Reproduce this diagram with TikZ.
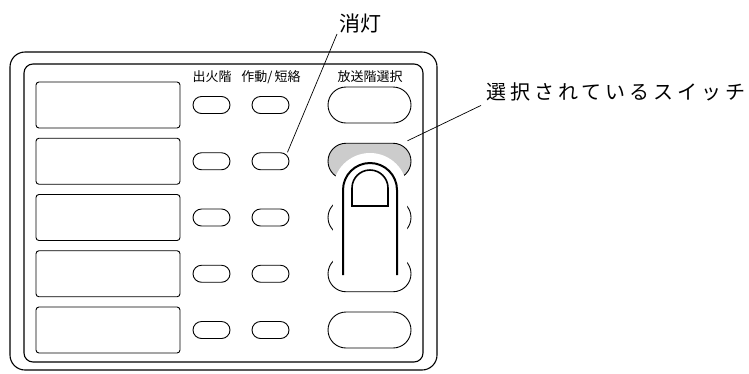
\documentclass[tikz,border=0pt]{standalone}
\usepackage{fontspec}
\setmainfont{Noto Sans CJK JP}
\usetikzlibrary{positioning}

\begin{document}
\begin{tikzpicture}[x=1pt, y=-1pt,
    frame/.style={draw, line width=1.1pt},
    display/.style={draw, line width=0.9pt, minimum width=144pt, minimum height=46pt,
                    rounded corners=3pt, inner sep=0pt},
    lamp/.style={draw, line width=0.9pt, minimum width=37pt, minimum height=17pt,
                 rounded corners=8.5pt, inner sep=0pt},
    switch/.style={draw, line width=0.9pt, minimum width=83pt, minimum height=36pt,
                   rounded corners=18pt, inner sep=0pt},
    head/.style={font=\fontsize{13}{15}\selectfont, inner sep=0pt},
    callout/.style={font=\fontsize{21}{23}\selectfont, inner sep=0pt},
    leader/.style={line width=0.7pt},
]
\useasboundingbox (0,0) rectangle (749,373);

% panel outline
\draw[frame, rounded corners=15pt] (10,52) rectangle (437,370);
\draw[frame, rounded corners=9pt] (24,64) rectangle (423,362);

% column heads
\node[head] (h-fire) at (212,77) {出火階};
\node[head] (h-act)  at (271,77) {作動/\,短絡};
\node[head] (h-sel)  at (370,77) {放送階選択};

% === rows ===
\foreach \r in {1,...,5} {
  \pgfmathsetmacro{\ry}{105+(\r-1)*56.25}
  \node[display] (disp-\r)  at (108,\ry)   {};
  \node[lamp]    (lamp-\r-1) at (211.5,\ry) {};
  \node[lamp]    (lamp-\r-2) at (270.5,\ry) {};
  \ifnum\r=2
    \node[switch, fill=gray!40] (sw-\r) at (369.5,\ry) {};
  \else
    \node[switch] (sw-\r) at (369.5,\ry) {};
  \fi
}

% finger pressing the selected switch
\fill[white] (333,276) -- (333,190) arc (180:360:37) -- (407,276) -- cycle;
\draw[line width=2pt] (343,275) -- (343,190) arc (180:360:27) -- (397,275);
\draw[line width=1.6pt] (352,206) -- (352,188) arc (180:360:18) -- (388,206) -- cycle;

% === callouts ===
\node[callout, anchor=south west] (off) at (339,33) {消灯};
\node[callout, anchor=west, font=\fontsize{20}{22}\selectfont\addfontfeature{LetterSpace=20}]
  (chosen) at (486,92) {選択されているスイッチ};

\draw[leader] ([xshift=-2pt,yshift=-1pt]off.south west) -- ([xshift=-2pt]lamp-2-2.north east);
\draw[leader] ([xshift=-5pt,yshift=-4pt]chosen.south west) -- ([xshift=-4pt,yshift=2pt]sw-2.north east);
\end{tikzpicture}
\end{document}
